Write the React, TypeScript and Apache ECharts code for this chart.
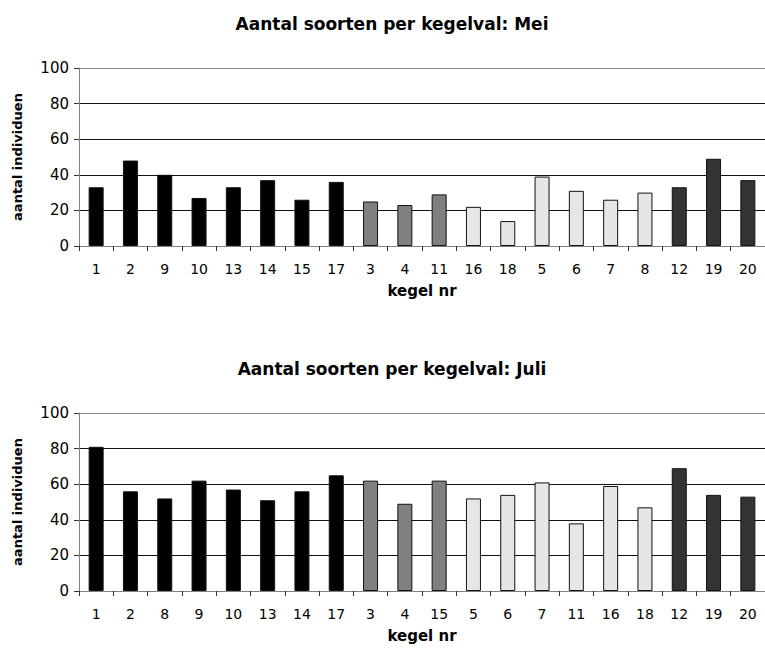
import React, { useEffect, useRef } from "react";
import * as echarts from "echarts";

const meiCategories = ["1", "2", "9", "10", "13", "14", "15", "17", "3", "4", "11", "16", "18", "5", "6", "7", "8", "12", "19", "20"];
const meiValues = [33, 48, 40, 27, 33, 37, 26, 36, 25, 23, 29, 22, 14, 39, 31, 26, 30, 33, 49, 37];
const meiGroups = [0, 0, 0, 0, 0, 0, 0, 0, 1, 1, 1, 2, 2, 2, 2, 2, 2, 3, 3, 3];

const juliCategories = ["1", "2", "8", "9", "10", "13", "14", "17", "3", "4", "15", "5", "6", "7", "11", "16", "18", "12", "19", "20"];
const juliValues = [81, 56, 52, 62, 57, 51, 56, 65, 62, 49, 62, 52, 54, 61, 38, 59, 47, 69, 54, 53];
const juliGroups = [0, 0, 0, 0, 0, 0, 0, 0, 1, 1, 1, 2, 2, 2, 2, 2, 2, 3, 3, 3];

const yTicks = [0, 20, 40, 60, 80, 100];
const groupColors = ["#000000", "#808080", "#e6e6e6", "#333333"];

const FONT = "DejaVu Sans, Arial, sans-serif";

export default function App() {
  const ref = useRef<HTMLDivElement>(null);
  useEffect(() => {
    if (!ref.current) return;
    const chart = echarts.init(ref.current, undefined, { renderer: "svg" });

    const mkData = (vals: number[], groups: number[]) =>
      vals.map((v, i) => ({
        value: v,
        itemStyle: {
          color: groupColors[groups[i]],
          borderColor: "#111",
          borderWidth: 1,
        },
      }));

    const grids = [
      { left: 79, right: -4, top: 68, height: 178 },
      { left: 79, right: -4, top: 413, height: 178 },
    ];

    const xAxisBase = (cats: string[], gridIndex: number) => ({
      type: "category" as const,
      gridIndex,
      data: cats,
      boundaryGap: true,
      name: "kegel nr",
      nameLocation: "middle" as const,
      nameGap: 37,
      nameTextStyle: { fontFamily: FONT, fontWeight: "bold" as const, fontSize: 15, color: "#000" },
      axisLine: { lineStyle: { color: "#808080", width: 1 } },
      axisTick: { show: true, length: 5, alignWithLabel: false, lineStyle: { color: "#333" } },
      axisLabel: { fontFamily: FONT, fontSize: 14, color: "#000", margin: 16, interval: 0 },
      splitLine: { show: false },
    });

    const yAxisBase = (gridIndex: number) => ({
      type: "value" as const,
      gridIndex,
      min: 0,
      max: 100,
      interval: 20,
      name: "aantal individuen",
      nameLocation: "middle" as const,
      nameGap: 55,
      nameRotate: 90,
      nameTextStyle: { fontFamily: FONT, fontWeight: "bold" as const, fontSize: 13, color: "#000" },
      axisLine: { show: true, lineStyle: { color: "#808080", width: 1 } },
      axisTick: { show: true, length: 5, lineStyle: { color: "#333" } },
      axisLabel: {
        fontFamily: FONT,
        fontSize: 15,
        color: "#000",
        margin: 10,
        formatter: (v: number) => (yTicks.includes(v) ? String(v) : ""),
      },
      splitLine: {
        show: true,
        lineStyle: {
          color: yTicks.map((t) => (t === 100 ? "#888888" : "#111111")),
          width: 1,
        },
      },
    });

    chart.setOption({
      animation: false,
      backgroundColor: "#ffffff",
      title: [
        {
          text: "Aantal soorten per kegelval: Mei",
          left: 387,
          top: 10,
          textAlign: "center",
          textStyle: { fontFamily: FONT, fontWeight: "bold", fontSize: 17, color: "#000" },
        },
        {
          text: "Aantal soorten per kegelval: Juli",
          left: 387,
          top: 355,
          textAlign: "center",
          textStyle: { fontFamily: FONT, fontWeight: "bold", fontSize: 17, color: "#000" },
        },
      ],
      grid: grids,
      xAxis: [xAxisBase(meiCategories, 0), xAxisBase(juliCategories, 1)],
      yAxis: [yAxisBase(0), yAxisBase(1)],
      series: [
        {
          type: "bar",
          xAxisIndex: 0,
          yAxisIndex: 0,
          barWidth: 15,
          data: mkData(meiValues, meiGroups),
        },
        {
          type: "bar",
          xAxisIndex: 1,
          yAxisIndex: 1,
          barWidth: 15,
          data: mkData(juliValues, juliGroups),
        },
      ],
    });
    return () => chart.dispose();
  }, []);

  return (
    <div
      ref={ref}
      style={{ position: "absolute", left: 0, top: 0, width: 765, height: 649, background: "#fff" }}
    />
  );
}
